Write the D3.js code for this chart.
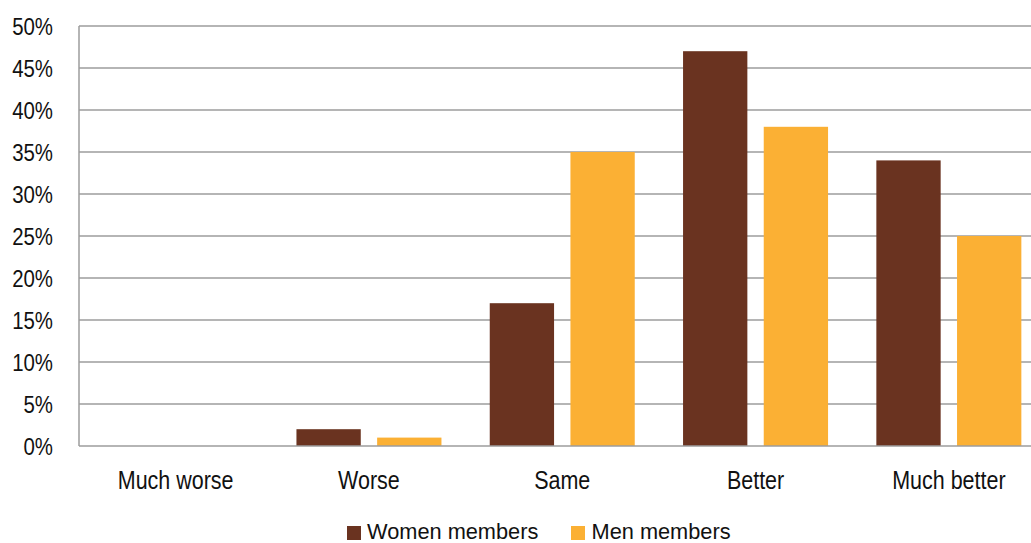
<!DOCTYPE html>
<html>
<head>
<meta charset="utf-8">
<script src="https://cdn.jsdelivr.net/npm/d3@7"></script>
<style>
  html, body { margin: 0; padding: 0; background: #fff; }
  svg { display: block; }
  text { font-family: "Liberation Sans", Arial, sans-serif; fill: #111; }
</style>
</head>
<body>
<svg id="chart" width="1031" height="543"></svg>
<script>
const categories = ["Much worse", "Worse", "Same", "Better", "Much better"];
const seriesNames = ["Women members", "Men members"];
const women = [0, 2, 17, 47, 34];
const men = [0, 1, 35, 38, 25];
const yTicks = [0, 5, 10, 15, 20, 25, 30, 35, 40, 45, 50];
const colors = ["#6A3320", "#FBB034"];

const svg = d3.select("#chart");
const plotLeft = 79, plotRight = 1045.5, plotTop = 26, plotBottom = 446;
const sx = 0.85;

const x0 = d3.scaleBand().domain(categories).range([plotLeft, plotRight]).paddingInner(0).paddingOuter(0);
const groupPad = (x0.bandwidth() - 145) / 2;
const x1 = d3.scaleBand().domain(seriesNames).range([groupPad, x0.bandwidth() - groupPad]).paddingInner(0.203).paddingOuter(0);
const y = d3.scaleLinear().domain([0, 50]).range([plotBottom, plotTop]);

// gridlines
svg.append("g").selectAll("line").data(yTicks.filter(d => d > 0)).join("line")
  .attr("x1", plotLeft).attr("x2", 1031)
  .attr("y1", d => y(d)).attr("y2", d => y(d))
  .attr("stroke", "#9d9d9d").attr("stroke-width", 1.5);

// bars
const data = categories.map((c, i) => ({ c, vals: [women[i], men[i]] }));
const groups = svg.append("g").selectAll("g").data(data).join("g")
  .attr("transform", d => `translate(${x0(d.c)},0)`);
groups.selectAll("rect").data(d => d.vals.map((v, j) => ({ v, s: seriesNames[j], j })))
  .join("rect")
  .attr("x", d => x1(d.s))
  .attr("width", x1.bandwidth())
  .attr("y", d => y(d.v))
  .attr("height", d => y(0) - y(d.v))
  .attr("fill", d => colors[d.j]);

// axes lines
svg.append("line").attr("x1", plotLeft).attr("x2", 1031).attr("y1", y(0)).attr("y2", y(0))
  .attr("stroke", "#9d9d9d").attr("stroke-width", 1.5);
svg.append("line").attr("x1", plotLeft).attr("x2", plotLeft).attr("y1", plotTop).attr("y2", plotBottom)
  .attr("stroke", "#9d9d9d").attr("stroke-width", 1.5);

// y tick labels
svg.append("g").selectAll("g").data(yTicks).join("g")
  .attr("transform", d => `translate(53,${y(d) + 8.5}) scale(${sx},1)`)
  .append("text").attr("text-anchor", "end").attr("font-size", 24)
  .text(d => d + "%");

// category labels
svg.append("g").selectAll("g").data(categories).join("g")
  .attr("transform", d => `translate(${x0(d) + x0.bandwidth() / 2},488.5) scale(0.86,1)`)
  .append("text").attr("text-anchor", "middle").attr("font-size", 25)
  .text(d => d);

// legend
const legendItems = [
  { name: seriesNames[0], sq: 347, tx: 367 },
  { name: seriesNames[1], sq: 571, tx: 591.5 }
];
const lg = svg.append("g").selectAll("g").data(legendItems).join("g");
lg.append("rect").attr("x", d => d.sq).attr("y", 526).attr("width", 14).attr("height", 14)
  .attr("fill", (d, i) => colors[i]);
lg.append("g").attr("transform", d => `translate(${d.tx},538.5) scale(0.99,1)`)
  .append("text").attr("font-size", 22).text(d => d.name);
</script>
</body>
</html>
